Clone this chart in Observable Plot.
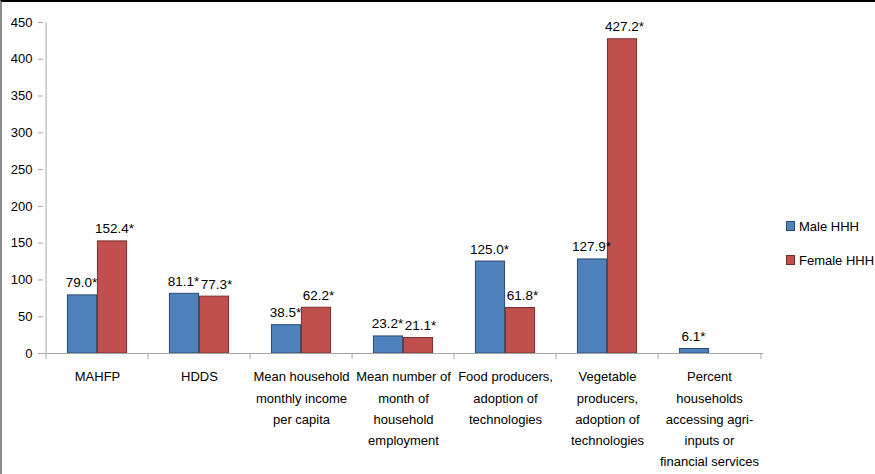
<!DOCTYPE html>
<html>
<head>
<meta charset="utf-8">
<script src="https://cdn.jsdelivr.net/npm/d3@7"></script>
<script src="https://cdn.jsdelivr.net/npm/@observablehq/plot@0.6"></script>
<style>
  html, body { margin: 0; padding: 0; background: #fff; }
  #wrap { position: relative; width: 875px; height: 474px; overflow: hidden; font-family: "Liberation Sans", Arial, sans-serif; }
  #border { position: absolute; left: 0; top: 0; width: 875px; height: 474px; box-sizing: border-box; border-top: 2px solid #000; border-left: 2px solid #8a8a8a; pointer-events: none; }
  #legend { position: absolute; left: 786px; top: 216px; font-size: 13px; color: #000; }
  .item { display: flex; align-items: center; height: 20px; margin-bottom: 14px; }
  .sw { width: 7px; height: 8px; margin-right: 4px; border: 1px solid #333; }
</style>
</head>
<body>
<div id="wrap"><div id="chart"></div><div id="legend"></div><div id="border"></div></div>
<script>
const categories = [
  "MAHFP",
  "HDDS",
  "Mean household\nmonthly income\nper capita",
  "Mean number of\nmonth of\nhousehold\nemployment",
  "Food producers,\nadoption of\ntechnologies",
  "Vegetable\nproducers,\nadoption of\ntechnologies",
  "Percent\nhouseholds\naccessing agri-\ninputs or\nfinancial services"
];
const seriesNames = ["Male HHH", "Female HHH"];
const maleValues = [79.0, 81.1, 38.5, 23.2, 125.0, 127.9, 6.1];
const femaleValues = [152.4, 77.3, 62.2, 21.1, 61.8, 427.2, null];
const yTicks = [0, 50, 100, 150, 200, 250, 300, 350, 400, 450];
const seriesColors = ["#4F81BD", "#C0504D"];
const seriesStrokes = ["#2b4a70", "#7a2e2c"];

const rows = [];
categories.forEach((c, i) => {
  if (maleValues[i] != null) rows.push({cat: c, series: seriesNames[0], value: maleValues[i]});
  if (femaleValues[i] != null) rows.push({cat: c, series: seriesNames[1], value: femaleValues[i]});
});
const male = rows.filter(d => d.series === seriesNames[0]);
const female = rows.filter(d => d.series === seriesNames[1]);

const W = 875, H = 474, ML = 43, MR = 112, MT = 22, MB = 121;
const step = (W - ML - MR) / categories.length;
const barW = 30;
const outer = (step - 2 * barW) / 2;
const grid = "#a6a6a6";
const lbl = d => d.value.toFixed(1) + "*";

const chart = Plot.plot({
  width: W, height: H,
  marginLeft: ML, marginRight: MR, marginTop: MT, marginBottom: MB,
  style: {fontFamily: "Liberation Sans, Arial, sans-serif", fontSize: "13px", color: "#000", background: "transparent"},
  x: {domain: categories, padding: 0},
  y: {domain: [0, yTicks[yTicks.length - 1]]},
  marks: [
    Plot.ruleX([categories[0]], {y1: 0, y2: yTicks[yTicks.length - 1], dx: -step / 2, stroke: grid}),
    Plot.barY(male, {x: "cat", y: "value", fill: seriesColors[0], stroke: seriesStrokes[0], strokeWidth: 1, insetLeft: outer, insetRight: outer + barW}),
    Plot.barY(female, {x: "cat", y: "value", fill: seriesColors[1], stroke: seriesStrokes[1], strokeWidth: 1, insetLeft: outer + barW, insetRight: outer}),
    Plot.ruleY([0], {stroke: grid}),
    Plot.text(male, {x: "cat", y: "value", text: lbl, dx: -barW / 2 - 1, dy: -8, lineAnchor: "bottom", fontSize: 13.5, fill: "#000"}),
    Plot.text(female, {x: "cat", y: "value", text: lbl, dx: barW / 2 + 2, dy: -8, lineAnchor: "bottom", fontSize: 13.5, fill: "#000"}),
    Plot.axisY({ticks: yTicks, tickSize: 5, tickPadding: 6, stroke: grid, fill: "#000", fontSize: 13, label: null, tickFormat: d => String(d)}),
    Plot.axisX({tickSize: 0, tickPadding: 13, fill: "#000", fontSize: 13, lineHeight: 1.62, label: null}),
    Plot.axisX({text: null, tickSize: 6, dx: -step / 2, stroke: grid, label: null}),
    Plot.axisX([categories[categories.length - 1]], {text: null, tickSize: 6, dx: step / 2, stroke: grid, label: null})
  ]
});
document.getElementById("chart").appendChild(chart);

const legend = document.getElementById("legend");
seriesNames.forEach((s, i) => {
  const item = document.createElement("div");
  item.className = "item";
  const sw = document.createElement("span");
  sw.className = "sw";
  sw.style.background = seriesColors[i];
  sw.style.borderColor = seriesStrokes[i];
  const t = document.createElement("span");
  t.textContent = s;
  item.appendChild(sw); item.appendChild(t);
  legend.appendChild(item);
});
</script>
</body>
</html>
